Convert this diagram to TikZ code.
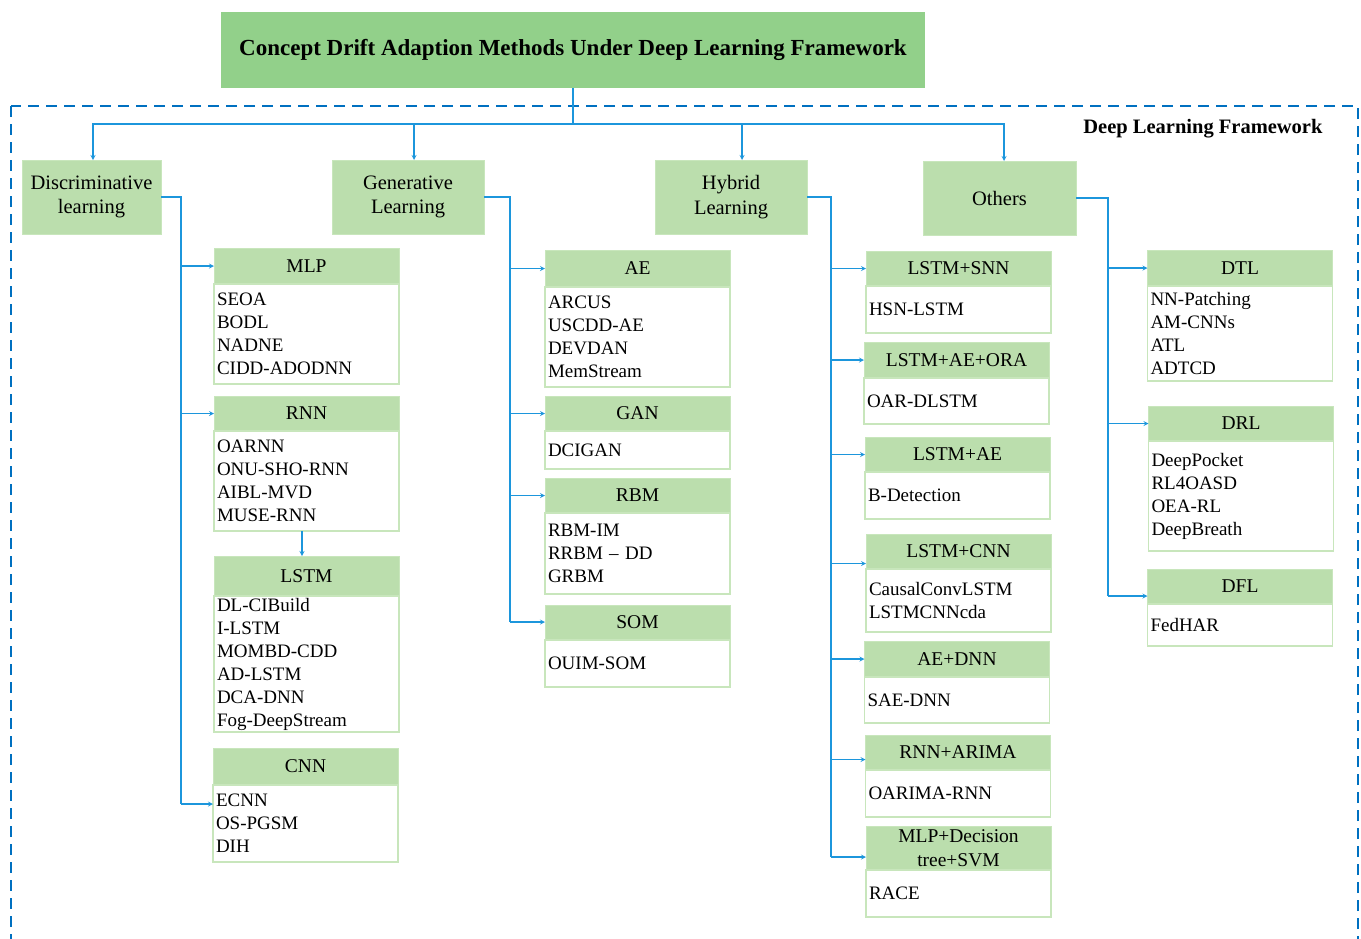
\documentclass[tikz,border=0pt]{standalone}
\usepackage{fontspec}
\setmainfont{Liberation Serif}
\usepackage{tikz}
\usetikzlibrary{arrows,shapes,positioning,calc}
\usepackage{xcolor}
\definecolor{dlgreen}{RGB}{146,208,138}
\definecolor{dllightgreen}{RGB}{187,222,173}
\definecolor{dledge}{RGB}{200,230,188}
\definecolor{dlblue}{RGB}{28,150,220}
\definecolor{dldash}{RGB}{0,112,192}
\tikzstyle{arrow} = [line width=1.2pt,->,>=stealth,color=dlblue]
\tikzstyle{link} = [line width=1.2pt,color=dlblue]
\tikzstyle{dlframe} = [line width=2pt, color=dldash, dash pattern=on 11pt off 7pt]
\tikzstyle{titlebox} = [rectangle, fill=dlgreen, minimum width=704pt, minimum height=76pt, outer sep=0pt, font=\fontsize{23}{27}\selectfont\bfseries]
\tikzstyle{category} = [rectangle, fill=dllightgreen, draw=dledge, line width=1pt, align=center, minimum height=74pt, outer sep=0pt, font=\fontsize{20.5}{24.5}\selectfont]
\tikzstyle{methodhead} = [rectangle, fill=dllightgreen, draw=dledge, line width=1pt, minimum width=185pt, align=center, inner sep=0pt, outer sep=0pt, font=\fontsize{19.5}{24}\selectfont]
\tikzstyle{methodlist} = [rectangle, fill=white, draw=dledge, line width=1.5pt, minimum width=185pt, text width=179pt, inner xsep=3pt, inner ysep=0pt, outer sep=0pt, align=left, font=\fontsize{19}{23}\selectfont]

\begin{document}
\begin{tikzpicture}[x=1pt, y=-1pt]
    \useasboundingbox (0,0) rectangle (1361,938);
    \clip (0,0) rectangle (1361,938);

    % Frame
    \draw[dlframe] (11,106) rectangle (1358,960);
    \node[anchor=east, font=\fontsize{20.5}{24}\selectfont\bfseries] (dlf) at (1326,129) {Deep Learning Framework};

    % Title
    \node[titlebox] (title) at (573,50) {Concept Drift Adaption Methods Under Deep Learning Framework};

    % Category boxes
    \node[category, minimum width=139pt] (disc) at (91.5,197) {Discriminative\\learning};
    \node[category, minimum width=152pt] (gen) at (408,197) {Generative\\Learning};
    \node[category, minimum width=152pt] (hyb) at (731,197) {Hybrid\\Learning};
    \node[category, minimum width=153pt] (oth) at (999.5,198) {Others};

    % Top arrows
    \coordinate (hub) at (573,124);
    \draw[link] (title.south) -- (hub);
    \draw[arrow] (hub) -| ([xshift=1.5pt]disc.north);
    \draw[arrow] (hub) -| ([xshift=6pt]gen.north);
    \draw[arrow] (hub) -| ([xshift=11pt]hyb.north);
    \draw[arrow] (hub) -| ([xshift=4.5pt]oth.north);

    % Discriminative learning
    \node[methodhead, minimum height=36pt] (mlp) at (306.5,266) {MLP};
    \node[methodlist, minimum height=100pt, below=0pt of mlp] (mlpb) {SEOA\\BODL\\NADNE\\CIDD-ADODNN};
    \node[methodhead, minimum height=35pt] (rnn) at (306.5,413.5) {RNN};
    \node[methodlist, minimum height=100pt, below=0pt of rnn] (rnnb) {OARNN\\ONU-SHO-RNN\\AIBL-MVD\\MUSE-RNN};
    \node[methodhead, minimum height=40pt] (lstm) at (306.5,576) {LSTM};
    \node[methodlist, minimum height=136pt, below=0pt of lstm] (lstmb) {DL-CIBuild\\I-LSTM\\MOMBD-CDD\\AD-LSTM\\DCA-DNN\\Fog-DeepStream};
    \node[methodhead, minimum height=37pt] (cnn) at (305.5,766.5) {CNN};
    \node[methodlist, minimum height=77pt, below=0pt of cnn] (cnnb) {ECNN\\OS-PGSM\\DIH};

    \coordinate (dbus) at (181,804);
    \draw[link] (disc.east) -| (dbus);
    \draw[arrow] (dbus |- mlp.west) -- (mlp.west);
    \draw[arrow] (dbus |- rnn.west) -- (rnn.west);
    \draw[arrow] (dbus) -- (dbus -| cnnb.west);
    \draw[arrow] ([xshift=-4.5pt]rnnb.south) -- ([xshift=-4.5pt]lstm.north);

    % Generative learning
    \node[methodhead, minimum height=37pt] (ae) at (637.5,268.5) {AE};
    \node[methodlist, minimum height=100pt, below=0pt of ae] (aeb) {ARCUS\\USCDD-AE\\DEVDAN\\MemStream};
    \node[methodhead, minimum height=35pt] (gan) at (637.5,413.5) {GAN};
    \node[methodlist, minimum height=38pt, below=0pt of gan] (ganb) {DCIGAN};
    \node[methodhead, minimum height=35pt] (rbm) at (637.5,495.5) {RBM};
    \node[methodlist, minimum height=81pt, below=0pt of rbm] (rbmb) {RBM-IM\\RRBM – DD\\GRBM};
    \node[methodhead, minimum height=35pt] (som) at (637.5,622.5) {SOM};
    \node[methodlist, minimum height=47pt, below=0pt of som] (somb) {OUIM-SOM};

    \coordinate (gbus) at (510,622);
    \draw[link] (gen.east) -| (gbus);
    \draw[arrow] (gbus |- ae.west) -- (ae.west);
    \draw[arrow] (gbus |- gan.west) -- (gan.west);
    \draw[arrow] (gbus |- rbm.west) -- (rbm.west);
    \draw[arrow] (gbus) -- (gbus -| som.west);

    % Hybrid learning
    \node[methodhead, minimum height=35pt] (lstmsnn) at (958.5,268.5) {LSTM+SNN};
    \node[methodlist, minimum height=47pt, below=0pt of lstmsnn] (lstmsnnb) {HSN-LSTM};
    \node[methodhead, minimum height=36pt] (lstmaeora) at (956.5,360) {LSTM+AE+ORA};
    \node[methodlist, minimum height=46pt, below=0pt of lstmaeora] (lstmaeorab) {OAR-DLSTM};
    \node[methodhead, minimum height=35pt] (lstmae) at (957.5,454.5) {LSTM+AE};
    \node[methodlist, minimum height=47pt, below=0pt of lstmae] (lstmaeb) {B-Detection};
    \node[methodhead, minimum height=35pt] (lstmcnn) at (958.5,551.5) {LSTM+CNN};
    \node[methodlist, minimum height=63pt, below=0pt of lstmcnn] (lstmcnnb) {CausalConvLSTM\\LSTMCNNcda};
    \node[methodhead, minimum height=36pt] (aednn) at (957,659) {AE+DNN};
    \node[methodlist, minimum height=46pt, below=0pt of aednn] (aednnb) {SAE-DNN};
    \node[methodhead, minimum height=35pt] (rnnarima) at (958,752.5) {RNN+ARIMA};
    \node[methodlist, minimum height=47pt, below=0pt of rnnarima] (rnnarimab) {OARIMA-RNN};
    \node[methodhead, minimum height=44pt] (mlpdt) at (958.5,848) {MLP+Decision\\tree+SVM};
    \node[methodlist, minimum height=47pt, below=0pt of mlpdt] (mlpdtb) {RACE};

    \coordinate (hbus) at (831,857);
    \draw[link] (hyb.east) -| (hbus);
    \draw[arrow] (hbus |- lstmsnn.west) -- (lstmsnn.west);
    \draw[arrow] (hbus |- lstmaeora.west) -- (lstmaeora.west);
    \draw[arrow] (hbus |- lstmae.west) -- (lstmae.west);
    \draw[arrow] ($(hbus |- lstmcnn.west)+(0,12)$) -- ($(lstmcnn.west)+(0,12)$);
    \draw[arrow] (hbus |- aednn.west) -- (aednn.west);
    \draw[arrow] ($(hbus |- rnnarima.west)+(0,7)$) -- ($(rnnarima.west)+(0,7)$);
    \draw[arrow] (hbus) -- (hbus -| mlpdt.west);

    % Others
    \node[methodhead, minimum height=36pt] (dtl) at (1240,268) {DTL};
    \node[methodlist, minimum height=95pt, below=0pt of dtl] (dtlb) {NN-Patching\\AM-CNNs\\ATL\\ADTCD};
    \node[methodhead, minimum height=35pt] (drl) at (1241,423.5) {DRL};
    \node[methodlist, minimum height=110pt, below=0pt of drl] (drlb) {DeepPocket\\RL4OASD\\OEA-RL\\DeepBreath};
    \node[methodhead, minimum height=35pt] (dfl) at (1240,586.5) {DFL};
    \node[methodlist, minimum height=42pt, below=0pt of dfl] (dflb) {FedHAR};

    \coordinate (obus) at (1108,596);
    \draw[link] (oth.east) -| (obus);
    \draw[arrow] (obus |- dtl.west) -- (dtl.west);
    \draw[arrow] (obus |- drl.west) -- (drl.west);
    \draw[arrow] (obus) -- (obus -| dfl.west);
\end{tikzpicture}
\end{document}
